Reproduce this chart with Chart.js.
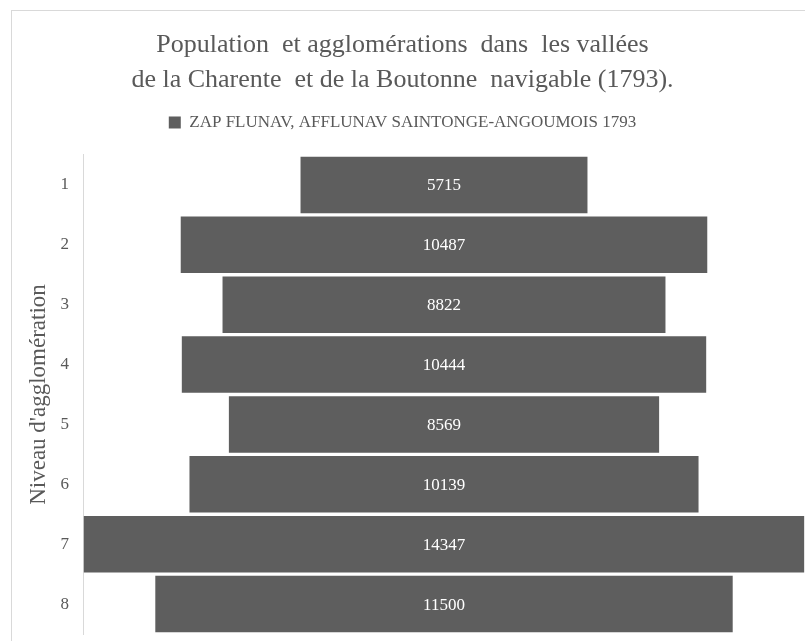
<!DOCTYPE html>
<html>
<head>
<meta charset="utf-8">
<script src="https://cdn.jsdelivr.net/npm/chart.js@4.4.1/dist/chart.umd.min.js"></script>
<style>
  html, body { margin: 0; padding: 0; background: #ffffff; overflow: hidden; }
  #frame { position: absolute; left: 11px; top: 10px; width: 900px; height: 800px; border: 1px solid #d9d9d9; box-sizing: border-box; }
  #wrap { position: absolute; left: 0; top: 0; width: 805px; height: 641px; }
</style>
</head>
<body>
<div id="frame"></div>
<div id="wrap"><canvas id="c" width="805" height="641"></canvas></div>
<script>
const levels = ['1', '2', '3', '4', '5', '6', '7', '8'];
const population = [5715, 10487, 8822, 10444, 8569, 10139, 14347, 11500];
const seriesName = 'ZAP FLUNAV, AFFLUNAV SAINTONGE-ANGOUMOIS 1793';
const titleLines = ['Population  et agglomérations  dans  les vallées', 'de la Charente  et de la Boutonne  navigable (1793).'];
const axisTitle = "Niveau d'agglomération";

const SERIF = '"Liberation Serif", "Times New Roman", serif';
const TXT = '#595959';
const BAR = '#5e5e5e';

// centred (funnel) bars: each bar spans [-v/2, v/2]
const floating = population.map(v => [-v / 2, v / 2]);
const half = 7190;

const valueLabels = {
  id: 'valueLabels',
  afterDatasetsDraw(chart) {
    const ctx = chart.ctx;
    const meta = chart.getDatasetMeta(0);
    ctx.save();
    ctx.fillStyle = '#ffffff';
    ctx.font = '17px ' + SERIF;
    ctx.textAlign = 'center';
    ctx.textBaseline = 'middle';
    meta.data.forEach((el, i) => {
      const cx = (el.x + el.base) / 2;
      ctx.fillText(String(population[i]), cx, el.y + 1);
    });
    ctx.restore();
  }
};

new Chart(document.getElementById('c'), {
  type: 'bar',
  data: {
    labels: levels,
    datasets: [{
      label: seriesName,
      data: floating,
      backgroundColor: BAR,
      borderWidth: 0,
      barPercentage: 0.945,
      categoryPercentage: 1.0
    }]
  },
  options: {
    indexAxis: 'y',
    responsive: false,
    animation: false,
    devicePixelRatio: 1,
    layout: { padding: { top: 0, right: 0, bottom: 7, left: 0 } },
    plugins: {
      tooltip: { enabled: false },
      title: {
        display: true,
        text: titleLines,
        color: TXT,
        font: { family: SERIF, size: 26, weight: 'normal', lineHeight: 1.346 },
        padding: { top: 28, bottom: 3 }
      },
      legend: {
        display: true,
        position: 'top',
        labels: {
          color: TXT,
          font: { family: SERIF, size: 17 },
          boxWidth: 12,
          boxHeight: 12,
          padding: 13
        }
      }
    },
    scales: {
      x: {
        display: true,
        position: 'top',
        min: -half,
        max: half,
        ticks: { display: false },
        grid: { display: false, drawTicks: false },
        border: { display: false },
        afterFit(scale) {
          scale.height = 14;
          scale.paddingLeft = 0;
          scale.paddingRight = 0;
        }
      },
      y: {
        afterFit(scale) {
          scale.width = 83;
          scale.paddingTop = 0;
          scale.paddingBottom = 0;
        },
        grid: { display: false, drawTicks: false },
        border: { display: true, color: '#d9d9d9', width: 1 },
        ticks: {
          color: TXT,
          font: { family: SERIF, size: 17 },
          padding: 14
        },
        title: {
          display: true,
          text: axisTitle,
          color: TXT,
          font: { family: SERIF, size: 23, weight: 'normal' },
          padding: { top: 25, bottom: 0 }
        }
      }
    }
  },
  plugins: [valueLabels]
});
</script>
</body>
</html>
